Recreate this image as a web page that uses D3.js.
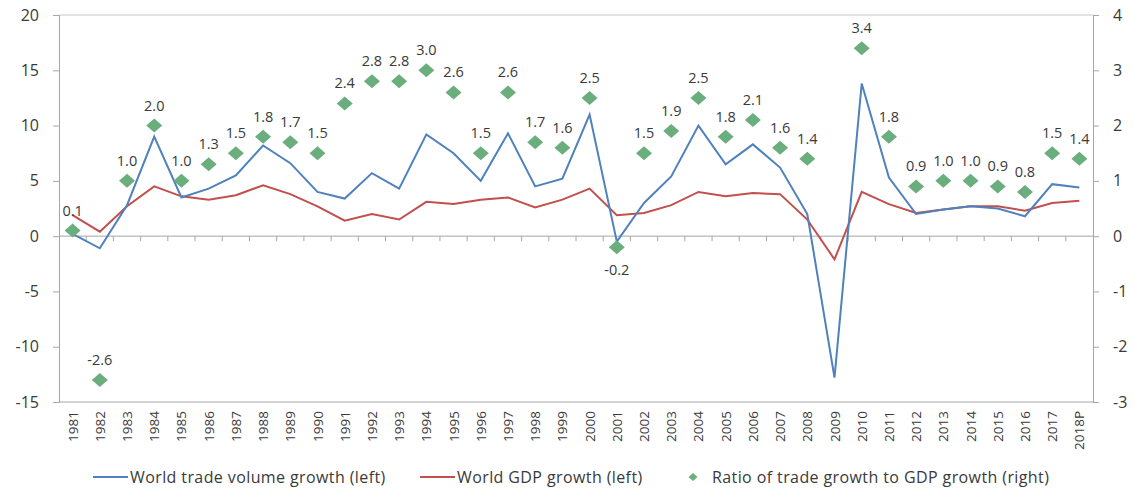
<!DOCTYPE html>
<html><head><meta charset="utf-8">
<script src="https://cdn.jsdelivr.net/npm/d3@7"></script>
<style>body{margin:0;background:#fff}svg{display:block}text{font-family:"Open Sans","Liberation Sans",sans-serif;fill:#3a3a3a}</style>
</head><body><svg id="c" width="1133" height="489"></svg>
<script>
const years = ["1981","1982","1983","1984","1985","1986","1987","1988","1989","1990","1991","1992","1993","1994","1995","1996","1997","1998","1999","2000","2001","2002","2003","2004","2005","2006","2007","2008","2009","2010","2011","2012","2013","2014","2015","2016","2017","2018P"];
const tradeGrowth = [0.2,-1.1,2.8,9.0,3.5,4.3,5.5,8.2,6.6,4.0,3.4,5.7,4.3,9.2,7.5,5.0,9.3,4.5,5.2,11.0,-0.5,3.0,5.4,10.0,6.5,8.3,6.2,2.0,-12.8,13.8,5.3,2.0,2.4,2.7,2.5,1.8,4.7,4.4];
const gdpGrowth = [1.9,0.4,2.7,4.5,3.6,3.3,3.7,4.6,3.8,2.7,1.4,2.0,1.5,3.1,2.9,3.3,3.5,2.6,3.3,4.3,1.9,2.1,2.8,4.0,3.6,3.9,3.8,1.5,-2.1,4.0,2.9,2.1,2.4,2.7,2.7,2.3,3.0,3.2];
const ratio = [0.1,-2.6,1.0,2.0,1.0,1.3,1.5,1.8,1.7,1.5,2.4,2.8,2.8,3.0,2.6,1.5,2.6,1.7,1.6,2.5,-0.2,1.5,1.9,2.5,1.8,2.1,1.6,1.4,null,3.4,1.8,0.9,1.0,1.0,0.9,0.8,1.5,1.4];
const leftTicks = [-15,-10,-5,0,5,10,15,20];
const rightTicks = [-3,-2,-1,0,1,2,3,4];
const legendLabels = ["World trade volume growth (left)","World GDP growth (left)","Ratio of trade growth to GDP growth (right)"];

const svg = d3.select("#c");
const L=59, R=1093, T=15, B=402;
const x = d3.scaleBand().domain(years).range([L,R]).padding(0);
const yL = d3.scaleLinear().domain([-15,20]).range([B,T]);
const yR = d3.scaleLinear().domain([-3,4]).range([B,T]);
const axisCol="#a6a6a6";
const cx = d => x(d)+x.bandwidth()/2;
const fmt1 = v => v.toFixed(1);

// frame lines
svg.append("line").attr("x1",L).attr("x2",R).attr("y1",T).attr("y2",T).attr("stroke","#c8c8c8");
svg.append("line").attr("x1",L).attr("x2",R).attr("y1",B).attr("y2",B).attr("stroke",axisCol);

// left axis
const la = svg.append("g").attr("transform",`translate(${L},0)`)
  .call(d3.axisLeft(yL).tickValues(leftTicks).tickSize(6).tickPadding(14).tickFormat(d=>String(d)));
la.select(".domain").attr("stroke",axisCol);
la.selectAll(".tick line").attr("stroke",axisCol);
la.selectAll("text").style("font-size","16px").attr("fill","#3a3a3a");

// right axis
const ra = svg.append("g").attr("transform",`translate(${R},0)`)
  .call(d3.axisRight(yR).tickValues(rightTicks).tickSize(6).tickPadding(14).tickFormat(d=>String(d)));
ra.select(".domain").attr("stroke",axisCol);
ra.selectAll(".tick line").attr("stroke",axisCol);
ra.selectAll("text").style("font-size","16px").attr("fill","#3a3a3a");

// zero line with category ticks
svg.append("line").attr("x1",L).attr("x2",R).attr("y1",yL(0)).attr("y2",yL(0)).attr("stroke",axisCol);
svg.append("g").selectAll("line").data(years.slice(1)).join("line")
  .attr("x1",d=>x(d)).attr("x2",d=>x(d)).attr("y1",yL(0)).attr("y2",yL(0)+5).attr("stroke",axisCol);

// category labels
svg.append("g").selectAll("text").data(years).join("text")
  .attr("transform",d=>`translate(${cx(d)+5},${B+9}) rotate(-90)`)
  .attr("text-anchor","end").style("font-size","13.5px").text(d=>d);

// lines
const lineL = d3.line().x((d,i)=>cx(years[i])).y(d=>yL(d));
svg.append("path").datum(gdpGrowth).attr("d",lineL).attr("fill","none").attr("stroke","#c0504d").attr("stroke-width",2);
svg.append("path").datum(tradeGrowth).attr("d",lineL).attr("fill","none").attr("stroke","#4f81bd").attr("stroke-width",2);

// diamonds
const diamondPath = (w,h) => `M0,${-h}L${w},0L0,${h}L${-w},0Z`;
const pts = ratio.map((v,i)=>({v,y:years[i]})).filter(d=>d.v!==null);
svg.append("g").selectAll("path").data(pts).join("path")
  .attr("d",diamondPath(8,7)).attr("transform",d=>`translate(${cx(d.y)},${yR(d.v)})`)
  .attr("fill","#6aae7e");
svg.append("g").selectAll("text").data(pts).join("text")
  .attr("x",d=>cx(d.y)).attr("y",d=>d.y==="2001"?yR(d.v)+28:yR(d.v)-15)
  .attr("text-anchor","middle").style("font-size","14.5px").text(d=>fmt1(d.v));

// legend
const ly = 477;
const lg = svg.append("g").style("letter-spacing","0.4px");
lg.append("line").attr("x1",93).attr("x2",128).attr("y1",ly).attr("y2",ly).attr("stroke","#4f81bd").attr("stroke-width",2);
lg.append("text").attr("x",130).attr("y",ly+5.5).style("font-size","16px").text(legendLabels[0]);
lg.append("line").attr("x1",420).attr("x2",455).attr("y1",ly).attr("y2",ly).attr("stroke","#c0504d").attr("stroke-width",2);
lg.append("text").attr("x",457).attr("y",ly+5.5).style("font-size","16px").text(legendLabels[1]);
lg.append("path").attr("d",diamondPath(4.5,4)).attr("transform",`translate(693,${ly})`).attr("fill","#6aae7e");
lg.append("text").attr("x",712).attr("y",ly+5.5).style("font-size","16px").text(legendLabels[2]);
</script></body></html>
